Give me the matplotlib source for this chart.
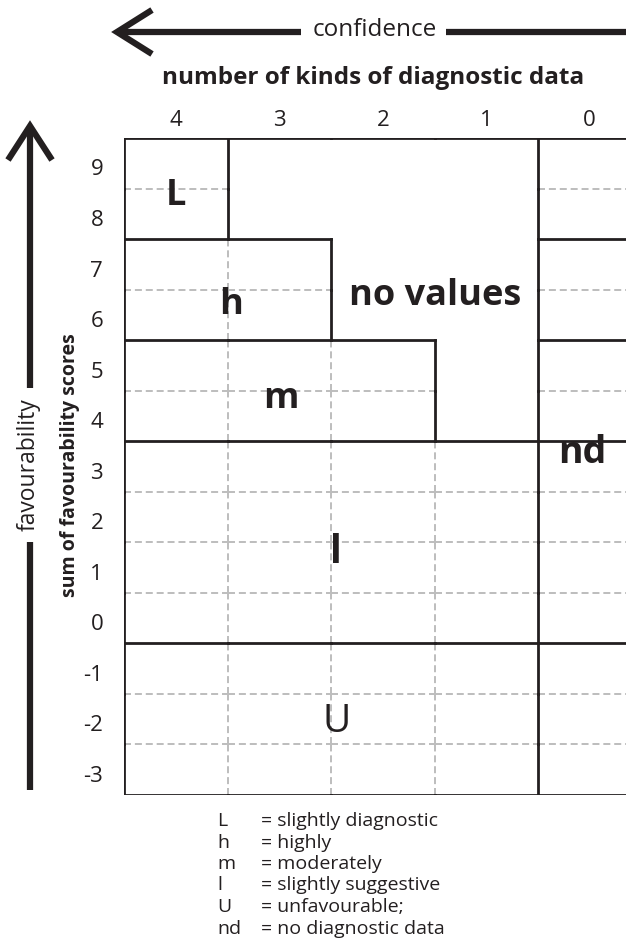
import matplotlib
matplotlib.use('Agg')
import matplotlib.pyplot as plt
from matplotlib.transforms import ScaledTranslation

plt.rcParams['font.family'] = ['Open Sans', 'DejaVu Sans']

# chart data
kinds = [4, 3, 2, 1, 0]                 # number of kinds of diagnostic data
max_score = {4: 9, 3: 7, 2: 5, 1: 3}    # highest possible score per kinds (0 -> nd)
scores = list(range(-3, 10))
class_names = ['L', 'h', 'm', 'l', 'U']
class_min = [8, 6, 4, 0, -3]

# region labels (x = kinds, y = score)
label_text = ['L', 'h', 'm', 'no values', 'l', 'U', 'nd']
label_x = [4.0, 3.47, 2.98, 1.49, 2.45, 2.45, 0.07]
label_y = [8.35, 6.2, 4.33, 6.38, 1.3, -2.05, 3.27]
label_bold = [True, True, True, True, True, False, True]
label_size = [26, 26, 26, 26, 28, 28, 27]

legend_keys = ['L', 'h', 'm', 'l', 'U', 'nd']
legend_desc = ['= slightly diagnostic', '= highly', '= moderately',
               '= slightly suggestive', '= unfavourable;', '= no diagnostic data']

INK = '#231f20'
GRID = '#bdbdbd'


def cls(s):
    for name, lo in zip(class_names, class_min):
        if s >= lo:
            return name
    return None


def valid(k, s):
    return k == 0 or s <= max_score[k]


fig = plt.figure(figsize=(6.26, 9.44), dpi=100)
W, H = 626, 944
ax = fig.add_axes([124 / W, (H - 795) / H, 517.5 / W, 657 / H])
ax.set_xlim(4.5, -0.5)
ax.set_ylim(-3.5, 9.5)

solid_h, dash_h, solid_v, dash_v = [], [], [], []
# horizontal edges
for k in kinds:
    x0, x1 = k + 0.5, k - 0.5
    for s in scores[:-1]:
        a, b = valid(k, s), valid(k, s + 1)
        if a and b:
            (solid_h if cls(s) != cls(s + 1) else dash_h).append((s + 0.5, x0, x1))
        elif a or b:
            solid_h.append((s + 0.5, x0, x1))
    solid_h.append((scores[-1] + 0.5, x0, x1))
    solid_h.append((scores[0] - 0.5, x0, x1))
# vertical edges
for s in scores:
    y0, y1 = s - 0.5, s + 0.5
    solid_v.append((kinds[0] + 0.5, y0, y1))
    for k in kinds[:-1]:
        r = k - 1
        a, b = valid(k, s), valid(r, s)
        if r == 0 or (a != b):
            solid_v.append((k - 0.5, y0, y1))
        elif a and b:
            dash_v.append((k - 0.5, y0, y1))

for y, a, b in dash_h:
    ax.hlines(y, a, b, colors=GRID, lw=1.4, linestyles=(0, (3.6, 2)), zorder=1)
for x, a, b in dash_v:
    ax.vlines(x, a, b, colors=GRID, lw=1.4, linestyles=(0, (3.6, 2)), zorder=1)
for y, a, b in solid_h:
    ax.hlines(y, a, b, colors=INK, lw=2.0, zorder=2, capstyle='projecting')
for x, a, b in solid_v:
    ax.vlines(x, a, b, colors=INK, lw=2.0, zorder=2, capstyle='projecting')

for t, x, y, bd, fs in zip(label_text, label_x, label_y, label_bold, label_size):
    ax.text(x, y, t, ha='center', va='center', fontsize=fs, color=INK,
            fontweight='bold' if bd else 'normal', zorder=3)

for sp in ax.spines.values():
    sp.set_visible(False)
ax.xaxis.tick_top()
ax.set_xticks(kinds)
ax.set_xticklabels([str(k) for k in kinds], fontsize=16, color=INK)
ax.set_yticks(scores)
ax.set_yticklabels([str(s) for s in scores], fontsize=16, color=INK)
ax.tick_params(length=0)
ax.tick_params(axis='x', pad=5)
ax.tick_params(axis='y', pad=15)
shift = ScaledTranslation(0, -3 / 72, fig.dpi_scale_trans)
for t in ax.get_yticklabels():
    t.set_transform(t.get_transform() + shift)

# overlay in pixel coords for arrows, titles and legend
ov = fig.add_axes([0, 0, 1, 1], zorder=5)
ov.set_xlim(0, W)
ov.set_ylim(H, 0)
ov.axis('off')
ov.patch.set_alpha(0)

alw = 4.5
ov.plot([117, 301], [32, 32], color=INK, lw=alw, solid_capstyle='butt')
ov.plot([446, 626], [32, 32], color=INK, lw=alw, solid_capstyle='butt')
ov.plot([152, 117, 152], [10, 32, 54], color=INK, lw=alw, solid_joinstyle='miter', solid_capstyle='butt')
ov.text(375, 30, 'confidence', ha='center', va='center', fontsize=17.5, color=INK)

ov.plot([30, 30], [127, 388], color=INK, lw=alw, solid_capstyle='butt')
ov.plot([30, 30], [542, 790], color=INK, lw=alw, solid_capstyle='butt')
ov.plot([8, 30, 52], [160, 126, 160], color=INK, lw=alw, solid_joinstyle='miter', solid_capstyle='butt')
ov.text(29, 465, 'favourability', ha='center', va='center', rotation=90, fontsize=16.5,
        color=INK)

ov.text(373, 78, 'number of kinds of diagnostic data', ha='center', va='center',
        fontsize=17.5, fontweight='bold', color=INK)
ov.text(70, 465, 'sum of favourability scores', ha='center', va='center', rotation=90,
        fontsize=14, fontweight='bold', color=INK)

for i, (k, d) in enumerate(zip(legend_keys, legend_desc)):
    y = 821 + i * 21.5
    ov.text(217, y, k, ha='left', va='center', fontsize=14, color=INK)
    ov.text(261, y, d, ha='left', va='center', fontsize=14, color=INK)

fig.savefig('out.png', dpi=100)
